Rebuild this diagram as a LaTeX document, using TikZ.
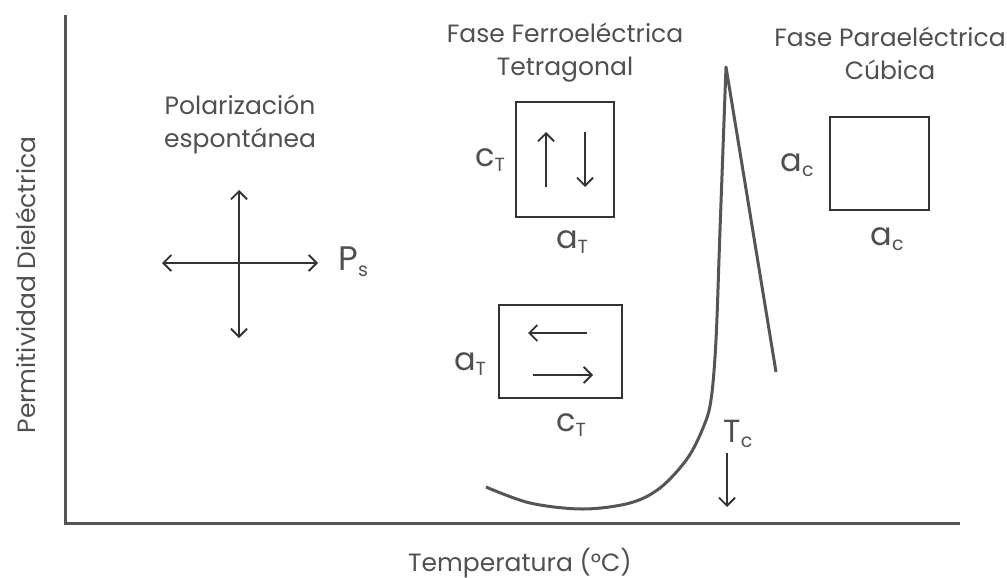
\documentclass[tikz,border=0pt]{standalone}
\usepackage{fontspec}
\setmainfont{Poppins}
\usetikzlibrary{arrows.meta}
\definecolor{inkgray}{HTML}{505050}
\definecolor{axisgray}{HTML}{555555}
\definecolor{boxgray}{HTML}{333333}
\newcommand{\sublbl}[2]{#1\raisebox{-0.3ex}{\fontsize{9.5}{9.5}\selectfont #2}}

\begin{document}
\begin{tikzpicture}[x=0.5pt, y=-0.5pt, >={Straight Barb[length=4pt,width=8pt]},
    txt/.style={text=inkgray, font=\fontsize{12.5}{16.5}\selectfont, align=center, inner sep=0pt},
    sym/.style={text=inkgray, font=\fontsize{16}{16}\selectfont, inner sep=0pt},
    cell/.style={draw=boxgray, line width=1pt, inner sep=0pt},
    vec/.style={->, boxgray, line width=0.9pt}]
    \useasboundingbox (0,0) rectangle (1007,578);

    % Axes and their titles
    \draw[axisgray, line width=1.5pt] (65,15) -- (65,523) -- (960,523);
    \node[txt, rotate=90] (ylab) at (26,285) {Permitividad Dieléctrica};
    \node[txt] (xlab) at (520,563) {Temperatura (°C)};

    % Spontaneous polarization
    \node[txt] (poltitle) at (240,124) {Polarización\\espontánea};
    \draw[<->, boxgray, line width=0.9pt] (239,190) -- (239,338);
    \draw[<->, boxgray, line width=0.9pt] (162,263) -- (318,263);
    \node[sym, font=\fontsize{17}{17}\selectfont, anchor=west] (ps) at (338,262) {\sublbl{P}{s}};

    % Tetragonal (ferroelectric) cells
    \node[txt] (ferro) at (565,53) {Fase Ferroeléctrica\\Tetragonal};
    \node[cell, minimum width=49pt, minimum height=57.5pt] (tetup) at (565,159.5) {};
    \draw[vec] (546,187) -- (546,132);
    \draw[vec] (585,132) -- (585,187);
    \node[sym] (cup) at (490,160) {\sublbl{c}{T}};
    \node[sym] (aup) at (572,242) {\sublbl{a}{T}};

    \node[cell, minimum width=61.5pt, minimum height=46.5pt] (tetside) at (560.5,351.5) {};
    \draw[vec] (587,333) -- (528,333);
    \draw[vec] (533,375) -- (593,375);
    \node[sym] (aside) at (470,364) {\sublbl{a}{T}};
    \node[sym] (cside) at (571,425) {\sublbl{c}{T}};

    % Cubic (paraelectric) cell
    \node[txt] (para) at (890,53) {Fase Paraeléctrica\\Cúbica};
    \node[cell, minimum width=49.5pt, minimum height=46.5pt] (cubic) at (879.5,163.5) {};
    \node[sym] (aleft) at (797,165) {\sublbl{a}{c}};
    \node[sym] (abot) at (887,239) {\sublbl{a}{c}};

    % Permittivity curve with the peak at Tc
    \draw[axisgray, line width=1.5pt, line join=round]
        plot[smooth, tension=0.55] coordinates {(486,487) (530,503) (583,509) (630,503)
            (660,488) (687,459) (703,428) (711,400) (716,340) (720,230) (726,67)}
        -- (776,372);
    \node[sym] (tc) at (738,434) {\sublbl{T}{c}};
    \draw[vec] (727,453) -- (727,507);
\end{tikzpicture}
\end{document}
